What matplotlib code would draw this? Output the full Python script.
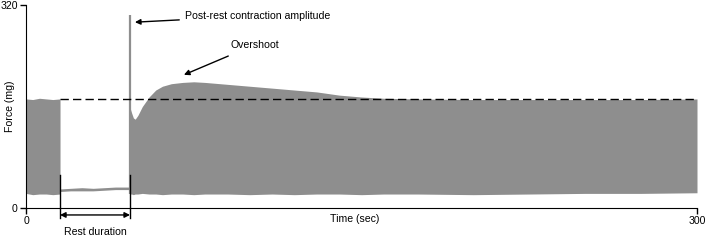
import numpy as np
import matplotlib.pyplot as plt

plt.rcParams['font.family'] = ['Liberation Sans', 'DejaVu Sans']

# envelope of the twitch trace
t_pre = [0, 3, 6, 9, 12, 15.2]
top_pre = [172, 171, 173, 172, 171, 172]
bot_pre = [23, 21, 22, 22, 21, 22]

t_rest = [15.2, 20, 25, 30, 35, 40, 46.5]
rest_hi = [30, 31, 32, 31, 32, 33, 33]
rest_lo = [26, 27, 27, 27, 28, 29, 29]

t_post = [46.5, 47.2, 48.0, 48.8, 50, 52, 55, 58, 61, 65, 70, 75, 80, 90, 100,
          110, 120, 130, 140, 150, 160, 175, 200, 225, 250, 275, 300]
top_post = [158, 150, 142, 140, 146, 160, 175, 186, 192, 196, 198, 199, 198, 195, 192,
            189, 186, 183, 178, 175, 173, 172, 171, 171, 171, 171, 172]
bot_post = [22, 22, 21, 22, 22, 23, 22, 22, 21, 22, 22, 21, 22, 22, 21,
            22, 21, 22, 22, 21, 22, 22, 21, 22, 23, 23, 24]

t_spike = 46.5
spike_peak = 304
steady_level = 172

gray = '#8e8e8e'
fs = 7.6

fig = plt.figure(figsize=(7.17, 2.41), dpi=100)
ax = fig.add_axes([0.0363, 0.137, 0.9358, 0.842])

ax.fill_between(t_pre, bot_pre, top_pre, color=gray, lw=0)
ax.fill_between(t_rest, rest_lo, rest_hi, color=gray, lw=0)
ax.fill_between(t_post, bot_post, top_post, color=gray, lw=0)
ax.vlines(t_spike, 22, spike_peak, color=gray, lw=1.6)

ax.hlines(steady_level, 15.2, 301, colors='k', linestyles=(0, (6, 3)), lw=1)

ax.set_xlim(0, 300)
ax.set_ylim(0, 320)
ax.set_xticks([0, 300])
ax.set_yticks([0, 320])
ax.tick_params(labelsize=fs, length=4, width=1, pad=2)
for s in ['top', 'right']:
    ax.spines[s].set_visible(False)
ax.set_ylabel('Force (mg)', fontsize=fs, labelpad=-10.5)
ax.text(147, -17, 'Time (sec)', fontsize=fs, ha='center', va='center')

# annotations
ax.annotate('Post-rest contraction amplitude', xy=(48.7, 293), xytext=(71, 303),
            fontsize=fs, va='center',
            arrowprops=dict(arrowstyle='-|>', color='k', lw=1, shrinkA=2, shrinkB=0,
                            mutation_scale=8))
ax.annotate('Overshoot', xy=(70.6, 210), xytext=(91.2, 257),
            fontsize=fs, va='center',
            arrowprops=dict(arrowstyle='-|>', color='k', lw=1, shrinkA=6, shrinkB=0,
                            mutation_scale=8))

# rest duration marker
for t in [15.2, 46.5]:
    ax.plot([t, t], [52, -16], color='k', lw=1, clip_on=False)
ax.annotate('', xy=(15.2, -11), xytext=(46.5, -11), annotation_clip=False,
            arrowprops=dict(arrowstyle='<|-|>', color='k', lw=1, shrinkA=0, shrinkB=0,
                            mutation_scale=8))
ax.text(30.8, -38, 'Rest duration', fontsize=fs, ha='center', va='center', clip_on=False)

fig.savefig('out.png', dpi=100)
